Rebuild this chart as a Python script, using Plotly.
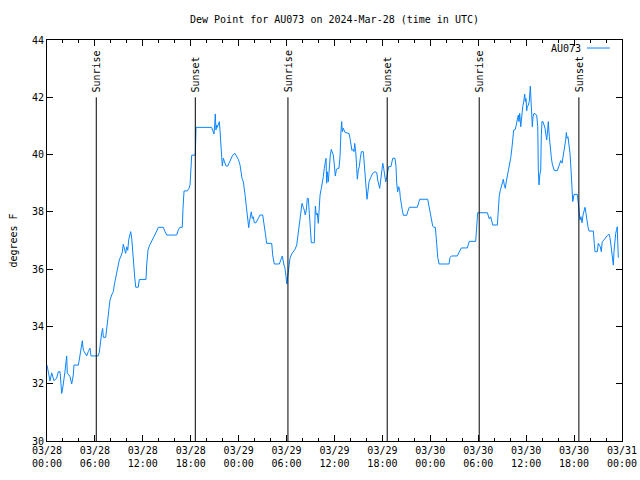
import pandas as pd
import plotly.graph_objects as go

# ---- data (hours since 2024-03-28 00:00 UTC, dew point in degrees F) ----
hours = [0.0, 0.29, 0.38, 0.59, 0.79, 0.88, 1.21, 1.42, 1.63, 1.72, 1.84, 1.97, 2.13, 2.25, 2.38, 2.47,
         2.54, 2.67, 2.88, 3.09, 3.17, 3.29, 3.38, 3.92, 4.04, 4.13, 4.30, 4.42, 4.55, 4.76, 4.97, 5.17,
         5.38, 5.51, 6.42, 6.55, 6.72, 6.85, 6.97, 7.05, 7.35, 7.48, 7.55, 7.68, 7.76, 7.89, 8.10, 8.30,
         8.43, 8.60, 8.73, 8.89, 9.05, 9.27, 9.43, 9.55, 9.73, 9.85, 9.98, 10.11, 10.23, 10.36, 10.48,
         10.61, 10.73, 10.86, 10.98, 11.11, 11.43, 11.56, 12.40, 12.48, 12.65, 12.81, 13.02, 13.24,
         13.52, 13.74, 13.94, 14.56, 14.78, 14.99, 16.24, 16.44, 16.65, 16.94, 17.03, 17.16, 17.57,
         17.78, 17.91, 17.99, 18.12, 18.57, 18.58, 18.66, 20.62, 20.82, 20.91, 21.0, 21.07, 21.16,
         21.25, 21.33, 21.45, 21.58, 21.66, 21.79, 21.88, 21.95, 22.08, 22.20, 22.41, 22.63, 22.92,
         23.25, 23.54, 23.75, 23.96, 24.17, 24.29, 24.42, 24.58, 24.71, 24.83, 24.96, 25.08, 25.17,
         25.26, 25.33, 25.46, 25.58, 25.71, 25.83, 25.96, 26.17, 26.46, 26.67, 27.01, 27.17, 27.34,
         27.51, 28.14, 28.26, 28.46, 29.09, 29.26, 29.46, 29.68, 29.80, 29.93, 30.02, 30.14, 30.30,
         30.43, 30.64, 30.84, 31.05, 31.27, 31.39, 31.56, 31.68, 31.81, 31.93, 32.09, 32.22, 32.34,
         32.47, 32.59, 32.72, 32.85, 32.97, 33.10, 33.47, 33.60, 33.72, 33.85, 33.97, 34.06, 34.19,
         34.35, 34.47, 34.60, 34.72, 34.85, 34.94, 35.02, 35.10, 35.22, 35.35, 35.48, 35.60, 35.73,
         35.85, 35.98, 36.10, 36.23, 36.35, 36.56, 36.69, 36.82, 36.90, 36.98, 37.10, 37.32, 37.82,
         37.94, 38.07, 38.19, 38.32, 38.44, 38.53, 38.66, 38.78, 38.86, 38.98, 39.11, 39.23, 39.36,
         39.61, 39.69, 39.82, 39.95, 40.07, 40.20, 40.32, 40.54, 40.79, 41.07, 41.29, 41.41, 41.54,
         41.66, 41.79, 41.91, 42.04, 42.16, 42.28, 42.41, 42.54, 42.66, 42.79, 43.07, 43.20, 43.29,
         43.58, 43.70, 43.79, 43.91, 44.04, 44.16, 44.24, 44.36, 44.49, 44.62, 45.04, 45.17, 45.37,
         46.37, 46.49, 46.67, 47.67, 47.80, 47.96, 48.12, 48.30, 48.46, 48.63, 48.71, 48.80, 48.93,
         49.09, 50.34, 50.47, 50.63, 51.38, 51.56, 51.72, 51.88, 52.63, 52.76, 52.88, 53.68, 53.76,
         53.85, 53.93, 55.14, 55.26, 55.39, 55.56, 55.69, 55.81, 56.39, 56.51, 56.64, 56.76, 56.89,
         57.01, 57.14, 57.26, 57.39, 57.51, 57.64, 57.76, 57.89, 58.06, 58.19, 58.31, 58.44, 58.64,
         58.77, 58.89, 59.02, 59.10, 59.19, 59.32, 59.44, 59.57, 59.69, 59.82, 59.89, 59.98, 60.07,
         60.14, 60.27, 60.39, 60.52, 60.61, 60.69, 60.77, 60.86, 60.98, 61.32, 61.45, 61.52, 61.61,
         61.69, 61.82, 61.90, 61.98, 62.11, 62.23, 62.36, 62.48, 62.57, 62.69, 62.77, 62.90, 63.02,
         63.15, 63.27, 63.40, 63.52, 63.90, 64.03, 64.15, 64.33, 64.49, 64.65, 64.83, 64.95, 65.03,
         65.12, 65.24, 65.37, 65.49, 65.62, 65.74, 65.83, 65.90, 65.99, 66.40, 66.53, 66.65, 66.74,
         66.87, 66.99, 67.12, 67.24, 67.37, 67.49, 67.62, 67.74, 67.87, 68.41, 68.53, 68.62, 68.91,
         69.03, 69.16, 69.28, 69.41, 69.53, 69.74, 69.96, 70.16, 70.37, 70.49, 70.62, 70.71, 70.83,
         70.91, 71.0, 71.08, 71.21, 71.33, 71.41, 71.46, 71.54]

dew_point = [32.65, 32.24, 32.1, 32.38, 32.2, 32.1, 32.2, 32.42, 32.42, 31.87, 31.66, 31.85, 32.1, 32.42,
             32.77, 32.97, 32.37, 32.33, 32.25, 31.99, 32.1, 32.3, 32.65, 32.65, 32.83, 33.04, 33.35,
             33.5, 33.17, 33.06, 32.97, 33.12, 33.24, 32.97, 32.97, 33.1, 33.55, 33.78, 33.93, 33.62,
             33.62, 33.87, 34.16, 34.4, 34.63, 34.92, 35.1, 35.21, 35.45, 35.68, 35.97, 36.2, 36.32,
             36.46, 36.6, 36.87, 36.64, 36.55, 36.78, 36.66, 37.02, 37.19, 37.31, 37.08, 36.55, 36.2,
             35.73, 35.37, 35.37, 35.64, 35.64, 36.14, 36.67, 36.81, 36.92, 37.08, 37.23, 37.33, 37.46,
             37.46, 37.31, 37.19, 37.19, 37.37, 37.46, 37.46, 38.12, 38.73, 38.73, 38.82, 38.94, 39.46,
             39.98, 39.98, 40.5, 40.95, 40.95, 40.8, 40.72, 41.03, 41.42, 40.86, 41.03, 40.95, 41.09,
             41.15, 40.86, 40.39, 39.87, 39.6, 39.87, 39.75, 39.6, 39.6, 39.81, 39.98, 40.04, 39.95,
             39.83, 39.64, 39.4, 39.17, 39.05, 38.82, 38.53, 38.18, 37.83, 37.54, 37.45, 37.62, 37.83,
             38.0, 37.77, 37.83, 37.62, 37.62, 37.77, 37.89, 37.89, 37.48, 37.25, 36.9, 36.9, 36.49,
             36.18, 36.18, 36.32, 36.46, 36.14, 36.03, 35.74, 35.48, 35.74, 36.26, 36.38, 36.53, 36.6,
             36.69, 36.84, 37.11, 37.31, 37.6, 37.95, 38.3, 38.16, 38.06, 37.89, 38.06, 38.47, 38.47,
             37.95, 37.25, 36.92, 36.92, 38.2, 37.89, 37.95, 37.6, 38.09, 38.59, 38.82, 39.0, 39.23,
             39.52, 39.75, 39.87, 39.0, 39.4, 39.05, 39.58, 39.98, 40.18, 40.07, 39.98, 39.64, 39.25,
             39.46, 39.52, 39.52, 39.93, 40.86, 41.15, 40.8, 40.92, 40.77, 40.74, 40.57, 40.28, 40.14,
             40.18, 40.1, 40.39, 40.1, 39.52, 39.14, 39.46, 39.58, 39.87, 40.1, 40.1, 39.75, 39.17,
             38.74, 38.44, 38.74, 39.05, 39.2, 39.35, 39.4, 39.37, 39.11, 38.94, 38.82, 39.11, 39.52,
             39.7, 39.52, 39.29, 39.05, 39.2, 39.4, 39.58, 39.58, 39.75, 39.87, 39.87, 39.58, 39.0,
             38.7, 38.88, 38.75, 38.5, 38.24, 38.06, 37.88, 37.88, 38.01, 38.16, 38.16, 38.32, 38.44,
             38.44, 38.24, 38.04, 37.77, 37.5, 37.46, 37.46, 37.19, 36.73, 36.41, 36.18, 36.18, 36.41,
             36.46, 36.46, 36.57, 36.69, 36.74, 36.74, 36.88, 36.97, 36.97, 37.25, 37.72, 37.97, 37.97,
             37.83, 37.75, 37.83, 37.69, 37.54, 37.54, 38.3, 38.59, 38.74, 38.9, 39.05, 39.14, 38.94,
             38.82, 39.05, 39.25, 39.4, 39.52, 39.87, 40.16, 40.51, 40.86, 40.88, 41.03, 41.23, 41.38,
             41.15, 41.44, 40.97, 41.5, 41.67, 41.85, 42.11, 41.85, 41.96, 41.53, 41.67, 41.73, 41.85,
             42.39, 41.9, 41.5, 40.97, 41.32, 41.44, 41.38, 40.97, 39.46, 38.94, 39.25, 39.46, 40.68,
             41.15, 41.15, 41.03, 40.92, 40.68, 40.51, 40.86, 41.15, 40.62, 40.16, 39.9, 39.67, 39.49,
             39.44, 39.44, 39.55, 39.64, 39.79, 39.7, 39.98, 40.22, 40.51, 40.77, 40.57, 40.62, 40.39,
             40.04, 39.46, 38.88, 38.36, 38.45, 38.61, 38.61, 38.3, 37.95, 37.72, 37.83, 37.62, 37.89,
             38.06, 38.16, 37.95, 37.6, 37.48, 37.33, 37.33, 36.9, 36.61, 36.61, 36.9, 36.84, 36.78,
             36.61, 36.96, 37.02, 37.11, 37.17, 37.22, 37.1, 36.84, 36.67, 36.34, 36.14, 36.61, 37.02,
             37.25, 37.39, 37.48, 36.96, 36.4]

# sunrise / sunset events (hours since start) and their labels
event_hours = [6.17, 18.57, 30.17, 42.6, 54.12, 66.6]
event_labels = ["Sunrise", "Sunset", "Sunrise", "Sunset", "Sunrise", "Sunset"]
event_top = 42.0

# x tick positions (hours) and labels
tick_hours = [0, 6, 12, 18, 24, 30, 36, 42, 48, 54, 60, 66, 72]
tick_labels = ["03/28<br>00:00", "03/28<br>06:00", "03/28<br>12:00", "03/28<br>18:00",
               "03/29<br>00:00", "03/29<br>06:00", "03/29<br>12:00", "03/29<br>18:00",
               "03/30<br>00:00", "03/30<br>06:00", "03/30<br>12:00", "03/30<br>18:00",
               "03/31<br>00:00"]
y_ticks = [30, 32, 34, 36, 38, 40, 42, 44]

# ---- build ----
base = pd.Timestamp("2024-03-28 00:00")
to_t = lambda h: base + pd.to_timedelta(h, unit="h")
times = [to_t(h) for h in hours]

FONT = "DejaVu Sans Mono"
LINE_COLOR = "#0a84ff"

fig = go.Figure()
fig.add_trace(go.Scatter(x=times, y=dew_point, mode="lines",
                         line=dict(color=LINE_COLOR, width=1), name="AU073",
                         showlegend=False))

for h, lab in zip(event_hours, event_labels):
    t = to_t(h)
    fig.add_shape(type="line", xref="x", yref="y", x0=t, x1=t, y0=30, y1=event_top,
                  line=dict(color="black", width=1))
    fig.add_annotation(x=t, y=event_top, xref="x", yref="y", text=lab, textangle=-90,
                       showarrow=False, xanchor="center", yanchor="bottom", yshift=3,
                       font=dict(family=FONT, size=10, color="black"))

# legend (gnuplot style: text then sample line)
fig.add_annotation(x=0.933, y=0.98, xref="paper", yref="paper", text="AU073",
                   showarrow=False, xanchor="right", yanchor="middle",
                   font=dict(family=FONT, size=10, color="black"))
fig.add_shape(type="line", xref="paper", yref="paper", x0=0.939, x1=0.979,
              y0=0.98, y1=0.98, line=dict(color=LINE_COLOR, width=1))

axis_common = dict(showline=True, linecolor="black", linewidth=1, mirror="allticks",
                   ticks="inside", tickcolor="black", tickwidth=1, showgrid=False,
                   zeroline=False, automargin=False,
                   tickfont=dict(family=FONT, size=10, color="black"))

fig.update_layout(
    width=640, height=480,
    margin=dict(l=47, r=18, t=40, b=39),
    paper_bgcolor="white", plot_bgcolor="white",
    title=dict(text="Dew Point for AU073 on 2024-Mar-28 (time in UTC)",
               x=0.5, xref="paper", y=0.96, yref="container", yanchor="middle",
               font=dict(family=FONT, size=10, color="black")),
    font=dict(family=FONT, size=10, color="black"),
    xaxis=dict(range=[to_t(0), to_t(72)], tickvals=[to_t(h) for h in tick_hours],
               ticktext=tick_labels, ticklen=6,
               minor=dict(dtick=2 * 3600 * 1000, tick0=to_t(0), ticks="inside",
                          ticklen=3, tickcolor="black"),
               **axis_common),
    yaxis=dict(range=[30, 44], tickvals=y_ticks, ticklen=6,
               title=dict(text="degrees F", standoff=12,
                          font=dict(family=FONT, size=10, color="black")),
               **axis_common),
)

fig.write_html("out.html")
